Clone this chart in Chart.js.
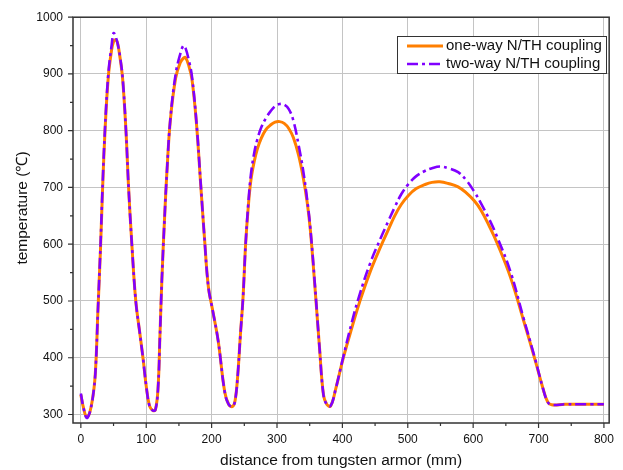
<!DOCTYPE html>
<html>
<head>
<meta charset="utf-8">
<script src="https://cdn.jsdelivr.net/npm/chart.js@4.4.0/dist/chart.umd.min.js"></script>
<style>
  body { margin: 0; background: #fff; }
  #wrap { width: 623px; height: 470px; }
</style>
</head>
<body>
<div id="wrap"><canvas id="chart" width="623" height="470"></canvas></div>
<script>
// distance from tungsten armor (mm)
const distance = [0, 4, 9, 14, 20, 23, 26, 30, 33, 37,
  42, 47, 50, 53, 56, 60, 64, 69, 73, 78,
  84, 90, 95, 100, 105, 110, 114, 118, 121, 124,
  128, 132, 137, 145, 152, 157, 160, 165, 170, 177,
  183, 189, 195, 201, 210, 220, 226, 232, 236, 240,
  244, 248, 252, 256, 260, 265, 270, 276, 283, 290,
  297, 304, 311, 318, 325, 333, 340, 346, 351, 358,
  365, 371, 376, 382, 390, 401, 415, 426, 442, 459,
  470, 480, 490, 501, 513, 526, 537, 549, 562, 577,
  590, 602, 612, 625, 637, 657, 677, 695, 707, 714,
  720, 740, 760, 780, 800];

// temperature, one-way coupling
const oneWay = [335, 312, 295, 305, 345, 390, 480, 590, 690, 800,
  895, 942, 957, 960, 955, 928, 890, 800, 700, 600,
  500, 445, 400, 350, 315, 307, 308, 345, 440, 540,
  645, 735, 820, 893, 920, 928, 929, 915, 890, 810,
  710, 612, 525, 487, 430, 340, 318, 314, 325, 370,
  440, 505, 600, 665, 712, 745, 768, 787, 802, 810,
  815, 816, 813, 804, 788, 757, 718, 675, 625, 525,
  418, 335, 318, 315, 346, 398, 455, 497, 550, 597,
  625, 650, 670, 686, 698, 705, 709, 710, 707, 701,
  690, 676, 660, 631, 601, 542, 466, 395, 345, 322,
  317, 318, 318, 318, 318];

// temperature, two-way coupling
const twoWay = [337, 312, 294, 305, 345, 390, 480, 595, 695, 805,
  900, 950, 972, 966, 955, 930, 892, 800, 700, 600,
  500, 445, 400, 350, 315, 307, 308, 345, 440, 540,
  645, 735, 822, 900, 935, 950, 946, 925, 895, 812,
  712, 612, 525, 487, 430, 340, 318, 314, 325, 370,
  440, 505, 600, 670, 722, 760, 785, 806, 822, 834,
  843, 847, 846, 838, 818, 775, 730, 680, 628, 528,
  418, 335, 318, 315, 346, 400, 465, 510, 565, 612,
  640, 665, 688, 706, 720, 729, 734, 737, 734, 727,
  712, 692, 672, 643, 612, 552, 470, 397, 345, 322,
  317, 318, 318, 318, 318];

const seriesNames = ['one-way N/TH coupling', 'two-way N/TH coupling'];
const xTicks = [0, 100, 200, 300, 400, 500, 600, 700, 800];
const yTicks = [300, 400, 500, 600, 700, 800, 900, 1000];
const xMinor = [50, 150, 250, 350, 450, 550, 650, 750];
const yMinor = [350, 450, 550, 650, 750, 850, 950];
const yTitle = 'temperature (℃)';

const orange = '#ff7f00';
const violet = '#8000ff';
const font = '"Liberation Sans", Arial, sans-serif';

// frame box + outward tick marks like the Origin plot
const frameTicks = {
    id: 'frameTicks',
    afterDatasetsDraw(chart) {
        const { ctx, chartArea: a, scales: { x, y } } = chart;
        ctx.save();
        ctx.strokeStyle = '#333';
        ctx.lineWidth = 1.5;
        ctx.strokeRect(a.left, a.top, a.right - a.left, a.bottom - a.top);
        ctx.lineWidth = 1.2;
        ctx.beginPath();
        xTicks.forEach(v => { const p = x.getPixelForValue(v); ctx.moveTo(p, a.bottom); ctx.lineTo(p, a.bottom + 5); });
        xMinor.forEach(v => { const p = x.getPixelForValue(v); ctx.moveTo(p, a.bottom); ctx.lineTo(p, a.bottom + 3); });
        yTicks.forEach(v => { const p = y.getPixelForValue(v); ctx.moveTo(a.left, p); ctx.lineTo(a.left - 5, p); });
        yMinor.forEach(v => { const p = y.getPixelForValue(v); ctx.moveTo(a.left, p); ctx.lineTo(a.left - 3, p); });
        ctx.stroke();

        // y axis title, sits a bit above the middle in the original
        ctx.fillStyle = '#111';
        ctx.font = '15.5px ' + font;
        ctx.textAlign = 'center';
        ctx.textBaseline = 'middle';
        ctx.translate(23, 208);
        ctx.rotate(-Math.PI / 2);
        ctx.fillText(yTitle, 0, 0);
        ctx.restore();
    }
};

// boxed legend in the upper right of the plot
const boxLegend = {
    id: 'boxLegend',
    afterDraw(chart) {
        const { ctx } = chart;
        const left = 397, top = 36, w = 209, h = 37;
        ctx.save();
        ctx.fillStyle = '#fff';
        ctx.fillRect(left, top, w, h);
        ctx.strokeStyle = '#333';
        ctx.lineWidth = 1;
        ctx.strokeRect(left + 0.5, top + 0.5, w, h);
        ctx.font = '15px ' + font;
        ctx.textBaseline = 'middle';
        chart.data.datasets.forEach((ds, i) => {
            const yy = 46 + i * 18;
            ctx.strokeStyle = ds.borderColor;
            ctx.lineWidth = ds.borderWidth;
            ctx.setLineDash(ds.borderDash || []);
            ctx.beginPath();
            ctx.moveTo(407, yy);
            ctx.lineTo(443, yy);
            ctx.stroke();
            ctx.setLineDash([]);
            ctx.fillStyle = '#111';
            ctx.fillText(ds.label, 446, yy);
        });
        ctx.restore();
    }
};

const toPoints = vals => vals.map((v, i) => ({ x: distance[i], y: v }));

new Chart(document.getElementById('chart').getContext('2d'), {
    type: 'line',
    data: {
        datasets: [
            {
                label: seriesNames[0],
                data: toPoints(oneWay),
                borderColor: orange,
                borderWidth: 3,
                pointRadius: 0,
                tension: 0.4,
                order: 1
            },
            {
                label: seriesNames[1],
                data: toPoints(twoWay),
                borderColor: violet,
                borderWidth: 2.6,
                borderDash: [11, 4, 3, 4],
                pointRadius: 0,
                tension: 0.4,
                order: 0
            }
        ]
    },
    options: {
        responsive: false,
        animation: false,
        devicePixelRatio: 1,
        layout: { padding: { top: 16, right: 6, left: 0, bottom: 0 } },
        plugins: {
            legend: { display: false },
            tooltip: { enabled: false }
        },
        scales: {
            x: {
                type: 'linear',
                min: -12,
                max: 808,
                afterBuildTicks: s => { s.ticks = xTicks.map(v => ({ value: v })); },
                afterFit: s => { s.height = 47; },
                grid: { color: '#c4c4c4', lineWidth: 1, drawTicks: false },
                border: { display: false },
                ticks: { padding: 9, color: '#111', font: { family: font, size: 12 }, maxRotation: 0, callback: v => String(v) },
                title: {
                    display: true,
                    text: 'distance from tungsten armor (mm)',
                    color: '#111',
                    font: { family: font, size: 15.5 },
                    padding: { top: 0, bottom: 0 }
                }
            },
            y: {
                type: 'linear',
                min: 285,
                max: 1000,
                afterBuildTicks: s => { s.ticks = yTicks.map(v => ({ value: v })); },
                afterFit: s => { s.width = 73; },
                grid: { color: '#c4c4c4', lineWidth: 1, drawTicks: false },
                border: { display: false },
                ticks: { padding: 10, color: '#111', font: { family: font, size: 12 }, callback: v => String(v) }
            }
        }
    },
    plugins: [frameTicks, boxLegend]
});
</script>
</body>
</html>
